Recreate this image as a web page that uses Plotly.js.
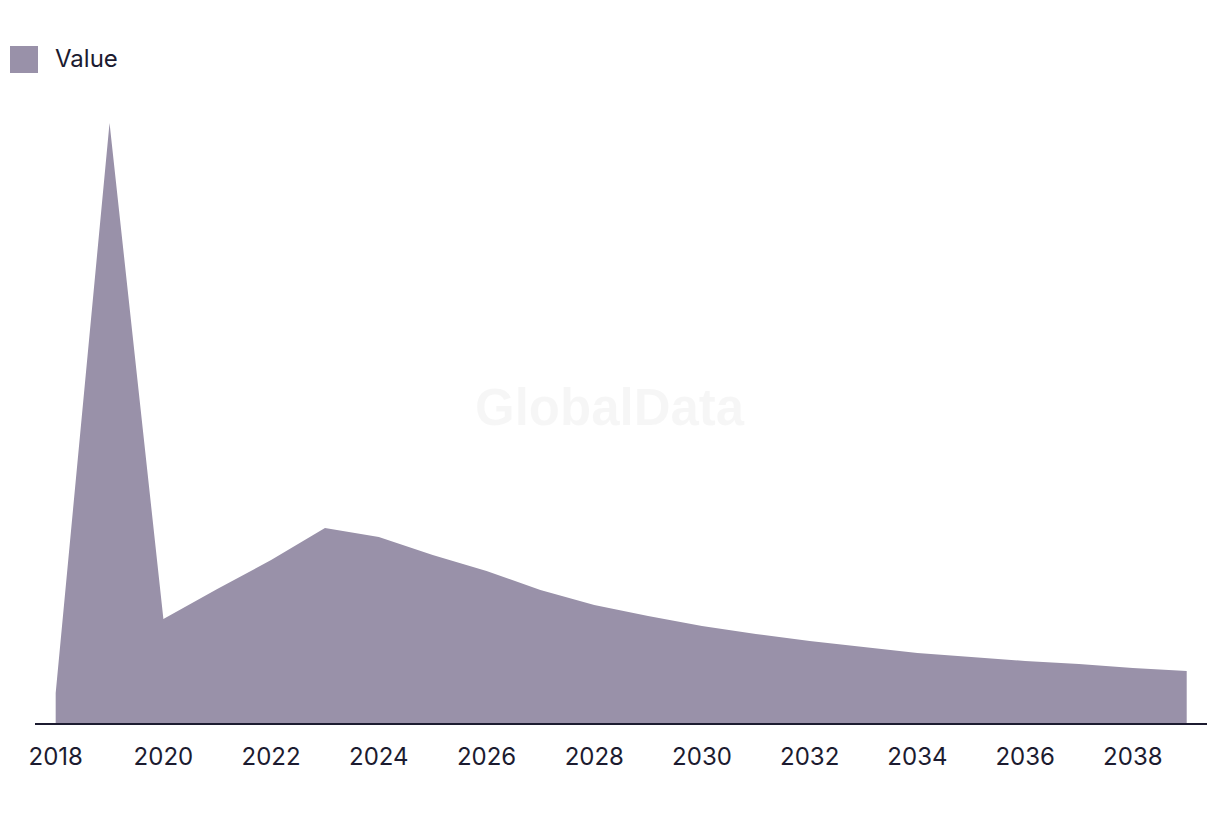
<!DOCTYPE html>
<html>
<head>
<meta charset="utf-8">
<script src="https://cdn.plot.ly/plotly-3.0.1.min.js"></script>
<style>html,body{margin:0;padding:0;background:#fff;}#chart{width:1220px;height:814px;}</style>
</head>
<body>
<div id="chart"></div>
<script>
const years = [2018,2019,2020,2021,2022,2023,2024,2025,2026,2027,2028,2029,2030,2031,2032,2033,2034,2035,2036,2037,2038,2039];
const values = [30,600,104,134,163,195,186,168,152,133,118,107,97,89,82,76,70,66,62,59,55,52];
const tickYears = [2018,2020,2022,2024,2026,2028,2030,2032,2034,2036,2038];
const seriesName = "Value";

const fillColor = "#9991a9";
const textColor = "#1c1b30";

const trace = {
  x: years, y: values, type: "scatter", mode: "lines",
  fill: "tozeroy", fillcolor: fillColor,
  line: {color: fillColor, width: 0},
  name: seriesName, showlegend: false, hoverinfo: "x+y"
};

const layout = {
  width: 1220, height: 814,
  margin: {l: 35, r: 13, t: 100, b: 91},
  paper_bgcolor: "#fff", plot_bgcolor: "#fff",
  font: {family: "Inter, 'Noto Sans', sans-serif", color: textColor, size: 24},
  xaxis: {
    range: [2017.616, 2039.377],
    tickvals: tickYears, ticktext: tickYears.map(String),
    showgrid: false, zeroline: false,
    showline: true, linecolor: textColor, linewidth: 2,
    ticks: "", ticklabelstandoff: 11,
    tickfont: {size: 24, color: textColor}
  },
  yaxis: {
    range: [0, 623], showgrid: false, zeroline: false,
    showticklabels: false, showline: false, ticks: ""
  },
  shapes: [{
    type: "rect", xref: "paper", yref: "paper",
    xsizemode: "pixel", ysizemode: "pixel",
    xanchor: 0, yanchor: 1,
    x0: -25, x1: 3, y0: 54, y1: 27,
    fillcolor: fillColor, line: {width: 0}
  }],
  annotations: [
    {text: seriesName, xref: "paper", yref: "paper", x: 0, y: 1,
     xshift: 18, yshift: 42, xanchor: "left", yanchor: "middle",
     showarrow: false, font: {size: 24, color: textColor}},
    {text: "<b>GlobalData</b>", xref: "paper", yref: "paper", x: 0.5, y: 0.5,
     xanchor: "center", yanchor: "middle", showarrow: false,
     xshift: -11, yshift: 4,
     font: {size: 51, color: "rgba(0,0,0,0.035)", family: "'Liberation Sans', Arial, sans-serif"}}
  ]
};

Plotly.newPlot("chart", [trace], layout, {displayModeBar: false, staticPlot: true});
</script>
</body>
</html>
